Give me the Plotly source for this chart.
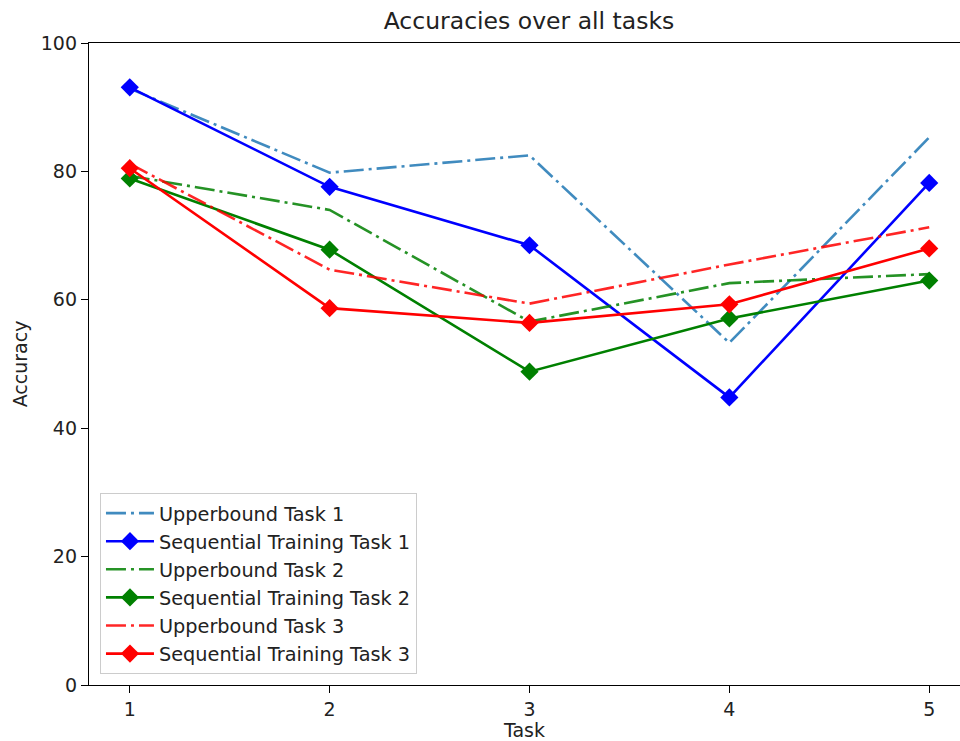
import plotly.graph_objects as go

tasks = [1, 2, 3, 4, 5]
upper_t1 = [92.9, 79.8, 82.5, 53.3, 85.3]
seq_t1 = [93.1, 77.6, 68.5, 44.8, 78.2]
upper_t2 = [79.3, 74.0, 56.6, 62.6, 64.0]
seq_t2 = [78.9, 67.8, 48.8, 57.1, 63.0]
upper_t3 = [81.2, 64.7, 59.4, 65.5, 71.3]
seq_t3 = [80.5, 58.7, 56.4, 59.3, 68.0]

names = ["Upperbound Task 1", "Sequential Training Task 1",
         "Upperbound Task 2", "Sequential Training Task 2",
         "Upperbound Task 3", "Sequential Training Task 3"]
series = [upper_t1, seq_t1, upper_t2, seq_t2, upper_t3, seq_t3]
colors = ["#1f77b4", "#0000ff", "#008000", "#008000", "#ff0000", "#ff0000"]

FONT = "DejaVu Sans"
fig = go.Figure()
for i, (nm, ys, c) in enumerate(zip(names, series, colors)):
    upper = i % 2 == 0
    fig.add_trace(go.Scatter(
        x=tasks, y=ys, name=nm,
        mode="lines" if upper else "lines+markers",
        line=dict(color=c, width=2.6, dash="20px,5px,3px,5px" if upper else "solid"),
        opacity=0.85 if upper else 1.0,
        marker=dict(symbol="diamond", size=14, color=c, line=dict(width=0)),
    ))

fig.update_layout(
    width=960, height=741,
    margin=dict(l=89, r=0, t=43, b=56),
    paper_bgcolor="white", plot_bgcolor="white",
    font=dict(family=FONT, size=19, color="#222222"),
    title=dict(text="Accuracies over all tasks", x=529/960, xref="container",
               xanchor="center", y=1-21/741, yref="container", yanchor="middle",
               font=dict(size=23.5, family=FONT, color="#222222")),
    legend=dict(x=0.0126, y=0.017, xanchor="left", yanchor="bottom",
                bordercolor="#cccccc", borderwidth=1, bgcolor="rgba(255,255,255,0.8)",
                font=dict(size=19.3, family=FONT, color="#222222"),
                itemwidth=48),
    showlegend=True,
)
fig.update_xaxes(range=[0.796, 5.154], tickmode="array", tickvals=tasks,
                 ticktext=[str(t) for t in tasks],
                 showline=True, linecolor="black", linewidth=1.3, mirror=True,
                 ticks="outside", ticklen=7, tickcolor="black", tickwidth=1.3,
                 showgrid=False, zeroline=False,
                 title=dict(text="Task", standoff=6, font=dict(size=19)),
                 tickfont=dict(size=19))
fig.update_yaxes(range=[0, 100], tickmode="array", tickvals=[0, 20, 40, 60, 80, 100],
                 showline=True, linecolor="black", linewidth=1.3, mirror=False,
                 ticks="outside", ticklen=7, tickcolor="black", tickwidth=1.3,
                 showgrid=False, zeroline=False,
                 title=dict(text="Accuracy", standoff=8, font=dict(size=19)),
                 tickfont=dict(size=19))

fig.write_html("out.html")
